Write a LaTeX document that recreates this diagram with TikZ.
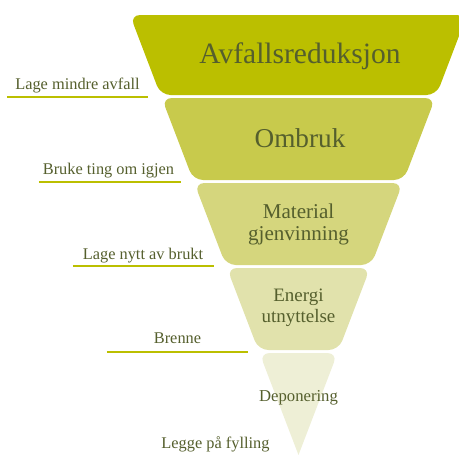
\documentclass[tikz,border=0pt]{standalone}
\usepackage{fontspec}
\setmainfont{Liberation Serif}
\usepackage{xcolor}
\usepackage{tikz}

\definecolor{bandA}{RGB}{187,191,0}
\definecolor{bandB}{RGB}{200,202,76}
\definecolor{bandC}{RGB}{213,214,125}
\definecolor{bandD}{RGB}{225,226,172}
\definecolor{bandE}{RGB}{238,239,214}
\definecolor{olivetext}{RGB}{85,95,45}

\tikzset{
  band text/.style={text=olivetext, align=center, anchor=base},
  side label/.style={text=olivetext, anchor=base, font=\fontsize{9.3}{11}\selectfont},
  underline/.style={draw=bandA, line width=1.2pt},
}

\begin{document}
\begin{tikzpicture}
        \useasboundingbox (-5.97,0.02) rectangle (3.21,9.1);
        \clip (-5.97,0.02) rectangle (3.21,9.1);

        % the funnel, top to bottom
        \fill [bandA, rounded corners=2mm] (-3.37,8.8) -- (3.37,8.8) -- (2.76,7.2) -- (-2.76,7.2) -- cycle;
        \fill [bandB, rounded corners=2mm] (-2.735,7.14) -- (2.735,7.14) -- (2.107,5.5) -- (-2.107,5.5) -- cycle;
        \fill [bandC, rounded corners=2mm] (-2.084,5.44) -- (2.084,5.44) -- (1.455,3.8) -- (-1.455,3.8) -- cycle;
        \fill [bandD, rounded corners=2mm] (-1.432,3.74) -- (1.432,3.74) -- (0.804,2.1) -- (-0.804,2.1) -- cycle;
        \fill [bandE] (0,0) [rounded corners=2mm] -- (-0.781,2.04) -- (0.781,2.04) [sharp corners] -- cycle;

        \node [band text, font=\fontsize{16.8}{18}\selectfont] (reduksjon) at (0.03,7.84) {Avfallsreduksjon};
        \node [band text, font=\fontsize{15.5}{17}\selectfont] (ombruk) at (0.03,6.16) {Ombruk};
        \node [band text, font=\fontsize{12}{12.5}\selectfont] (material) at (0,4.3) {Material\\gjenvinning};
        \node [band text, font=\fontsize{10.8}{11.4}\selectfont] (energi) at (0,2.66) {Energi\\utnyttelse};
        \node [band text, font=\fontsize{9.5}{11}\selectfont] (deponering) at (0,1.08) {Deponering};

        % labels on the left
        \node [side label] (mindre) at (-4.42,7.32) {Lage mindre avfall};
        \draw [underline] (-5.83,7.16) -- (-3.01,7.16);

        \node [side label] (igjen) at (-3.8,5.62) {Bruke ting om igjen};
        \draw [underline] (-5.19,5.46) -- (-2.35,5.46);

        \node [side label] (brukt) at (-3.11,3.92) {Lage nytt av brukt};
        \draw [underline] (-4.51,3.78) -- (-1.69,3.78);

        \node [side label] (brenne) at (-2.42,2.24) {Brenne};
        \draw [underline] (-3.83,2.06) -- (-1.01,2.06);

        \node [side label] (fylling) at (-1.66,0.14) {Legge på fylling};
\end{tikzpicture}
\end{document}
